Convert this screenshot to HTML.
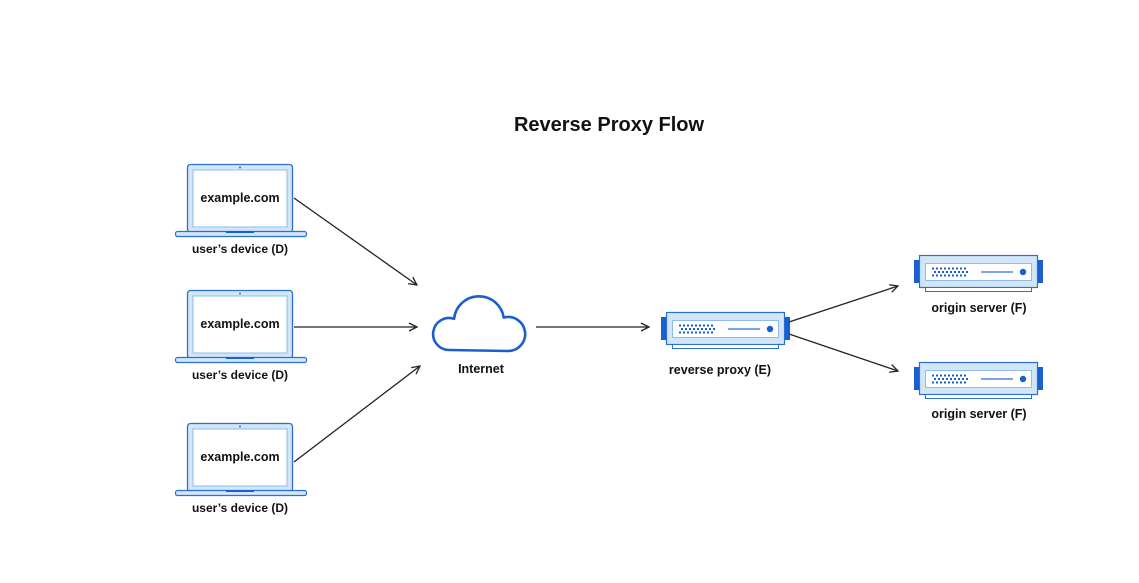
<!DOCTYPE html>
<html><head><style>
html,body{margin:0;padding:0;background:#fff;}
svg{display:block;}
text{font-family:"Liberation Sans",sans-serif;fill:#111;}
</style></head><body>
<svg width="1139" height="583" viewBox="0 0 1139 583" xmlns="http://www.w3.org/2000/svg">
<defs>
<marker id="a" markerWidth="10" markerHeight="10" refX="9" refY="5" orient="auto" markerUnits="userSpaceOnUse">
<path d="M1,1 L9,5 L1,9" fill="none" stroke="#222" stroke-width="1.3"/>
</marker>
<g id="lap">
<rect x="187.5" y="164.5" width="105" height="68" rx="3" fill="#d3e6f8" stroke="#2a6fd6" stroke-width="1.3"/>
<rect x="193" y="170" width="94" height="57" fill="#fff" stroke="#8fbcee" stroke-width="1"/>
<circle cx="240" cy="167.5" r="1" fill="#2a6fd6"/>
<rect x="175.5" y="231.5" width="131" height="5" rx="2" fill="#d3e6f8" stroke="#2a6fd6" stroke-width="1.2"/>
<rect x="226" y="231" width="28" height="2" fill="#1a5fd0"/>
<text x="240" y="202" font-size="12.5" font-weight="bold" text-anchor="middle">example.com</text>
<text x="240" y="253" font-size="12" font-weight="bold" text-anchor="middle">user’s device (D)</text>
</g>
<g id="srv">
<rect x="919.5" y="255.5" width="118" height="32" fill="#d3e6f8" stroke="#2a6fd6" stroke-width="1.2"/>
<rect x="925.5" y="263.5" width="106" height="17" fill="#fff" stroke="#8fbcee" stroke-width="1"/>
<rect x="925.5" y="287.5" width="106" height="4" fill="#fff" stroke="#2a6fd6" stroke-width="1"/>
<rect x="914" y="260" width="5" height="23" fill="#1a5fd0"/>
<rect x="1038" y="260" width="5" height="23" fill="#1a5fd0"/>
<path d="M932,268.5h36M934,272h36M932,275.5h36" stroke="#1a5fd0" stroke-width="2" stroke-dasharray="2,2"/>
<line x1="981" y1="272" x2="1013" y2="272" stroke="#2a6fd6" stroke-width="1.2"/>
<circle cx="1023" cy="272" r="3.2" fill="#1a5fd0"/>
</g>
</defs>
<text x="609" y="131" font-size="20" font-weight="bold" text-anchor="middle">Reverse Proxy Flow</text>
<use href="#lap"/>
<use href="#lap" y="126"/>
<use href="#lap" y="259"/>
<path d="M449,350 A16,16 0 1 1 454.1,318.8 A25,25 0 0 1 503.7,317.6 A17,17 0 1 1 508,351 Z" fill="#fff" stroke="#1a5fd0" stroke-width="2.6" stroke-linejoin="round"/>
<text x="481" y="373" font-size="12.5" font-weight="bold" text-anchor="middle">Internet</text>
<use href="#srv" x="-253" y="57"/>
<text x="720" y="374" font-size="12.5" font-weight="bold" text-anchor="middle">reverse proxy (E)</text>
<use href="#srv"/>
<text x="979" y="312" font-size="12.5" font-weight="bold" text-anchor="middle">origin server (F)</text>
<use href="#srv" y="107"/>
<text x="979" y="418" font-size="12.5" font-weight="bold" text-anchor="middle">origin server (F)</text>
<g stroke="#222" stroke-width="1.3" fill="none" marker-end="url(#a)">
<line x1="294" y1="198" x2="417" y2="285"/>
<line x1="294" y1="327" x2="417" y2="327"/>
<line x1="294" y1="462" x2="420" y2="366"/>
<line x1="536" y1="327" x2="649" y2="327"/>
<line x1="789" y1="322" x2="898" y2="286"/>
<line x1="789" y1="334" x2="898" y2="371"/>
</g>
</svg>
</body></html>
